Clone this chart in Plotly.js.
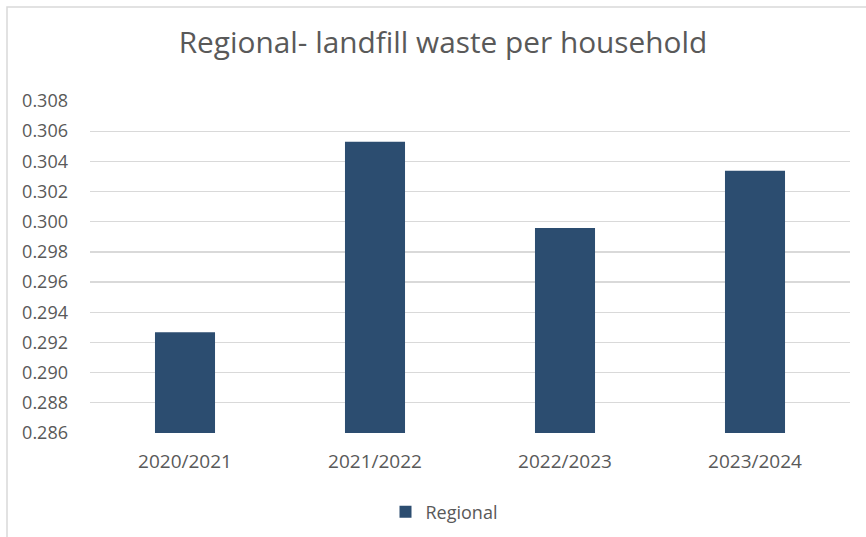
<!DOCTYPE html>
<html>
<head>
<meta charset="utf-8">
<script src="https://cdn.plot.ly/plotly-3.0.1.min.js"></script>
<style>html,body{margin:0;padding:0;background:#fff;}#chart{width:866px;height:537px;}</style>
</head>
<body>
<div id="chart"></div>
<script>
const categories = ["2020/2021", "2021/2022", "2022/2023", "2023/2024"];
const regionalValues = [0.29268, 0.30530, 0.29959, 0.30337];
const yTicks = [0.286, 0.288, 0.290, 0.292, 0.294, 0.296, 0.298, 0.300, 0.302, 0.304, 0.306, 0.308];

const fontFam = "'Open Sans', 'Liberation Sans', sans-serif";
const grey = "#595959";

const trace = {
  type: "bar",
  name: "Regional",
  x: categories,
  y: regionalValues,
  marker: {color: "#2c4d70"},
  hoverinfo: "x+y"
};

const L = 90, R = 850, T = 101, B = 433, W = 866, H = 537;
const px = x => (x - L) / (R - L);
const py = y => (B - y) / (B - T);

const layout = {
  width: W, height: H,
  margin: {l: L, r: W - R, t: T, b: H - B, pad: 0, autoexpand: false},
  paper_bgcolor: "#ffffff",
  plot_bgcolor: "#ffffff",
  title: {text: "Regional- landfill waste per household", font: {family: fontFam, size: 29.8, color: grey}, x: 443 / W, xanchor: "center", y: 1 - 43 / H, yanchor: "middle", automargin: false},
  bargap: 0.684,
  showlegend: true,
  legend: {orientation: "h", x: px(444), xanchor: "center", y: py(512), yanchor: "middle", font: {family: fontFam, size: 18, color: grey}, itemwidth: 30},
  xaxis: {
    type: "category",
    tickfont: {family: fontFam, size: 19, color: grey},
    showgrid: false, zeroline: false, showline: false,
    ticks: "", ticklabelstandoff: 15,
    automargin: false
  },
  yaxis: {
    range: [0.286, 0.308],
    tickvals: yTicks,
    ticktext: yTicks.map(v => v.toFixed(3)),
    tickfont: {family: fontFam, size: 18, color: grey},
    showgrid: true, gridcolor: "#d9d9d9", gridwidth: 1.3,
    zeroline: false, showline: false, ticks: "",
    ticklabelstandoff: 21,
    automargin: false
  },
  shapes: [{
    type: "path", xref: "paper", yref: "paper",
    path: `M ${px(866)} ${py(7)} L ${px(7)} ${py(7)} L ${px(7)} ${py(540)}`,
    line: {color: "#d9d9d9", width: 1.5}
  }]
};

Plotly.newPlot("chart", [trace], layout, {displayModeBar: false, staticPlot: true});
</script>
</body>
</html>
